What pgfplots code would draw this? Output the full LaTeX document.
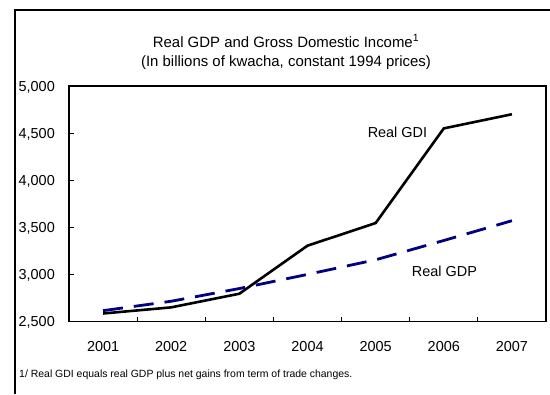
\documentclass[border=0pt]{standalone}
\usepackage{fontspec}
\setmainfont{Liberation Sans}
\usepackage{pgfplots}
\pgfplotsset{compat=1.18}
\definecolor{gdpnavy}{RGB}{0,0,128}

\begin{document}
\begin{tikzpicture}[x=1bp,y=1bp]
\useasboundingbox (0,0) rectangle (550,394);
\fill[white] (0,0) rectangle (550,394);
% outer frame (left and top edges)
\draw[line width=1.5bp] (15,0) -- (15,384) -- (550,384);
\begin{axis}[
  at={(69bp,72.5bp)}, anchor=south west,
  scale only axis, width=477bp, height=235.5bp,
  xmin=-0.5, xmax=6.5, ymin=2500, ymax=5000,
  xtick={0,1,2,3,4,5,6},
  xticklabels={2001,2002,2003,2004,2005,2006,2007},
  minor xtick={0.5,1.5,2.5,3.5,4.5,5.5},
  major x tick style={draw=none},
  ytick={2500,3000,3500,4000,4500,5000},
  tick align=inside, xtick pos=left, ytick pos=left,
  major tick length=5bp, minor tick length=5bp,
  tick style={line width=1bp, black},
  axis line style={line width=1.3bp},
  /pgf/number format/.cd, 1000 sep={,}, assume math mode=true, /pgfplots/.cd,
  tick label style={font=\fontsize{14.5}{17}\selectfont},
  yticklabel style={anchor=base east, inner sep=0pt, xshift=-14bp, yshift=-5.2bp},
  xticklabel style={anchor=base, inner sep=0pt, yshift=-30.2bp},
  clip=false,
]
% Real GDI
\addplot[black, line width=2.6bp] coordinates {
  (0,2585) (1,2650) (2,2795) (3,3305) (4,3545) (5,4550) (6,4700)};
% Real GDP
\addplot[gdpnavy, line width=2.8bp, dash pattern=on 20bp off 11bp] coordinates {
  (0,2615) (1,2715) (2,2850) (3,3000) (4,3155) (5,3360) (6,3570)};
\node[font=\fontsize{14.5}{17}\selectfont] at (axis cs:4.32,4512) {Real GDI};
\node[font=\fontsize{14.5}{17}\selectfont] at (axis cs:5.01,3036) {Real GDP};
\end{axis}
\node[anchor=base, font=\fontsize{15}{18}\selectfont] at (286,347)
  {Real GDP and Gross Domestic Income\textsuperscript{1}};
\node[anchor=base, font=\fontsize{15}{18}\selectfont] at (286,327.3)
  {(In billions of kwacha, constant 1994 prices)};
\node[anchor=base west, inner sep=0pt, font=\fontsize{10.5}{12}\selectfont] at (19,16.7)
  {1/ Real GDI equals real GDP plus net gains from term of trade changes.};
\end{tikzpicture}
\end{document}
